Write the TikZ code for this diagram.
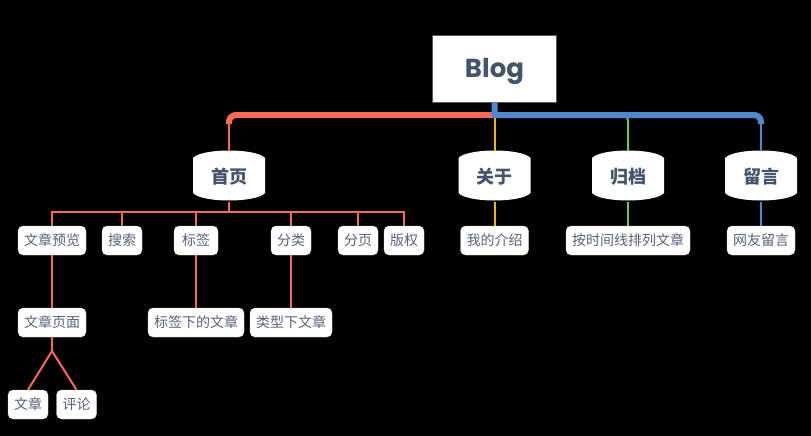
\documentclass[tikz,border=0pt]{standalone}
\usepackage{fontspec}
\usepackage{xcolor}
\usetikzlibrary{positioning}
\newfontfamily\cjk{Noto Sans CJK SC}
\newfontfamily\blogfont{Poppins}
\definecolor{inkmain}{HTML}{44546A}
\definecolor{inkleaf}{HTML}{56637B}
\definecolor{redline}{HTML}{F66B58}
\definecolor{blueline}{HTML}{4F88CF}
\definecolor{orangeline}{HTML}{F5B21C}
\definecolor{greenline}{HTML}{78C356}

\begin{document}
\begin{tikzpicture}[
  x=1pt, y=-1pt,
  root/.style={draw=gray!70!black, line width=0.8pt, fill=white, minimum width=124pt,
    minimum height=67pt, text height=18pt, text depth=0pt,
    text=inkmain, font=\blogfont\bfseries\fontsize{26}{26}\selectfont},
  topic/.style={minimum width=72pt, minimum height=51pt, inner sep=0pt,
    text=inkmain, font=\cjk\bfseries\fontsize{18}{18}\selectfont},
  leaf/.style={draw=gray!35, fill=white, rounded corners=5pt, minimum height=29pt,
    inner xsep=6pt, inner ysep=0pt, text=inkleaf, font=\cjk\fontsize{14}{14}\selectfont},
  trunk/.style={line width=6pt},
  twig/.style={line width=2pt}
]
\fill[black] (0,0) rectangle (811,436);
\useasboundingbox (0,0) rectangle (811,436);

\node[root] (blog) at (494.5,68.5) {Blog};

\foreach \cx in {229,494.5,628,761}
  \fill[white] (\cx-36,158) .. controls (\cx-27,148) and (\cx+27,148) .. (\cx+36,158)
    -- (\cx+36,193) .. controls (\cx+27,203) and (\cx-27,203) .. (\cx-36,193) -- cycle;
\node[topic] (home) at (229,176.5) {首页};
\node[topic] (about) at (494.5,176.5) {关于};
\node[topic] (archive) at (628,176.5) {归档};
\node[topic] (message) at (761,176.5) {留言};

\node[leaf] (preview) at (52,240.5) {文章预览};
\node[leaf] (search) at (122,240.5) {搜索};
\node[leaf, minimum width=44pt] (tags) at (196,240.5) {标签};
\node[leaf] (cats) at (291,240.5) {分类};
\node[leaf] (pages) at (358,240.5) {分页};
\node[leaf] (rights) at (404,240.5) {版权};
\node[leaf] (page) at (52,322.5) {文章页面};
\node[leaf] (tagposts) at (196,322.5) {标签下的文章};
\node[leaf] (catposts) at (291,322.5) {类型下文章};
\node[leaf] (article) at (28,404.5) {文章};
\node[leaf] (comment) at (76.5,404.5) {评论};
\node[leaf] (intro) at (494.5,240.5) {我的介绍};
\node[leaf] (timeline) at (628,240.5) {按时间线排列文章};
\node[leaf] (guestbook) at (761,240.5) {网友留言};

\coordinate (hub) at (494.5,115);
\coordinate (homebend) at (229,124);
\coordinate (msgbend) at (761,124);
\coordinate (archbend) at (614,115);
\coordinate (homebus) at (229,212);
\coordinate (split) at (52,351);

\draw[twig, orangeline] (hub) -- (about.north);
\draw[twig, orangeline] (about.south) -- (intro.north);
\draw[twig, greenline, rounded corners=6pt] (archbend) -| (archive.north);
\draw[twig, greenline] (archive.south) -- (timeline.north);
\draw[trunk, redline, rounded corners=7pt] (hub) -| (homebend);
\draw[twig, redline] ([yshift=2pt]homebend) -- (home.north);
\draw[trunk, blueline] (blog.south) -- (hub) [rounded corners=7pt] -| (msgbend);
\draw[twig, blueline] ([yshift=2pt]msgbend) -- (message.north);
\draw[twig, blueline] (message.south) -- (guestbook.north);

\draw[twig, redline] (home.south) -- (homebus);
\foreach \n in {preview,search,tags,cats,pages,rights}
  \draw[twig, redline] (homebus) -| (\n.north);
\draw[twig, redline] (preview.south) -- (page.north);
\draw[twig, redline] (tags.south) -- (tagposts.north);
\draw[twig, redline] (cats.south) -- (catposts.north);
\draw[twig, redline] (page.south) -- (split);
\draw[twig, redline] (split) -- (article.north);
\draw[twig, redline] (split) -- (comment.north);
\end{tikzpicture}
\end{document}
